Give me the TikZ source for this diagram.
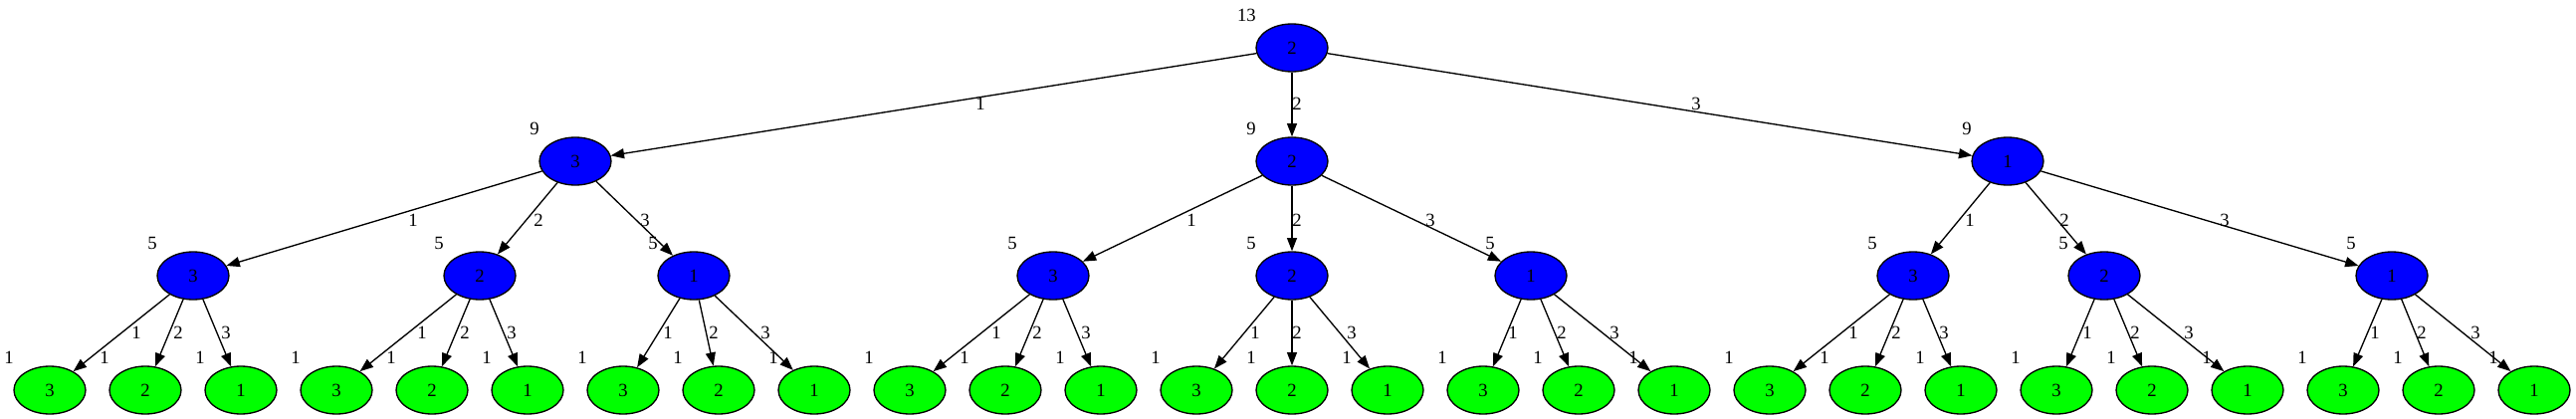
\documentclass[tikz,border=0pt]{standalone}
\usepackage{fontspec}
\setmainfont{Liberation Serif}
\usetikzlibrary{shapes.geometric,arrows.meta}
\begin{document}
\begin{tikzpicture}[x=0.75pt,y=-0.75pt,
  tn/.style={ellipse,draw=black,line width=1pt,minimum width=54pt,minimum height=36pt,inner sep=0pt,font=\fontsize{14}{16}\selectfont},
  innernode/.style={tn,fill=blue},
  leafnode/.style={tn,fill=green},
  xl/.style={anchor=east,inner sep=0pt,font=\fontsize{14}{16}\selectfont},
  el/.style={inner sep=0pt,font=\fontsize{14}{16}\selectfont},
  edge/.style={draw=black,line width=1pt,-{Triangle[length=10pt,width=7.5pt]}}]
\useasboundingbox (0,0) rectangle (2588,421);
% root
\node[innernode] (r) at (1298,48) {2};
\node[xl] (xr) at (1262,15) {13};
% level 1
\foreach \n/\x/\t in {1/578/3,2/1298/2,3/2017/1}{
  \node[innernode] (a\n) at (\x,162) {\t};
  \node[xl] (xa\n) at ({\x-36},129) {9};
}
% level 2
\foreach \n/\x/\t in {1/194/3,2/482/2,3/697/1,4/1058/3,5/1298/2,6/1538/1,7/1922/3,8/2114/2,9/2403/1}{
  \node[innernode] (b\n) at (\x,277) {\t};
  \node[xl] (xb\n) at ({\x-36},244) {5};
}
% leaves
\foreach \n in {1,...,27}{
  \pgfmathtruncatemacro{\xx}{50+96*(\n-1)}
  \pgfmathtruncatemacro{\tt}{3-mod(\n-1,3)}
  \node[leafnode] (c\n) at (\xx,392) {\tt};
  \node[xl] (xc\n) at ({\xx-36},359) {1};
}
% root edges
\foreach \c/\lx/\t in {1/985/1,2/1303/2,3/1704/3}{
  \draw[edge] (r) -- (a\c);
  \node[el] (er\c) at (\lx,104) {\t};
}
% level1 -> level2 edges
\foreach \p/\c/\lx/\t in {1/1/415/1,1/2/541/2,1/3/648/3,
                          2/4/1197/1,2/5/1303/2,2/6/1437/3,
                          3/7/1979/1,3/8/2074/2,3/9/2235/3}{
  \draw[edge] (a\p) -- (b\c);
  \node[el] (ea\c) at (\lx,221) {\t};
}
% level2 -> leaves edges
\foreach \p/\lxa/\lxb/\lxc in {1/137/179/227,2/424/467/514,3/671/717/769,
                               4/1001/1042/1091,5/1261/1303/1358,6/1520/1569/1622,
                               7/1862/1905/1953,8/2097/2145/2199,9/2386/2433/2487}{
  \pgfmathtruncatemacro{\ca}{3*\p-2}
  \pgfmathtruncatemacro{\cb}{3*\p-1}
  \pgfmathtruncatemacro{\cc}{3*\p}
  \draw[edge] (b\p) -- (c\ca);
  \draw[edge] (b\p) -- (c\cb);
  \draw[edge] (b\p) -- (c\cc);
  \node[el] (eb\ca) at (\lxa,334) {1};
  \node[el] (eb\cb) at (\lxb,334) {2};
  \node[el] (eb\cc) at (\lxc,334) {3};
}
\end{tikzpicture}
\end{document}
